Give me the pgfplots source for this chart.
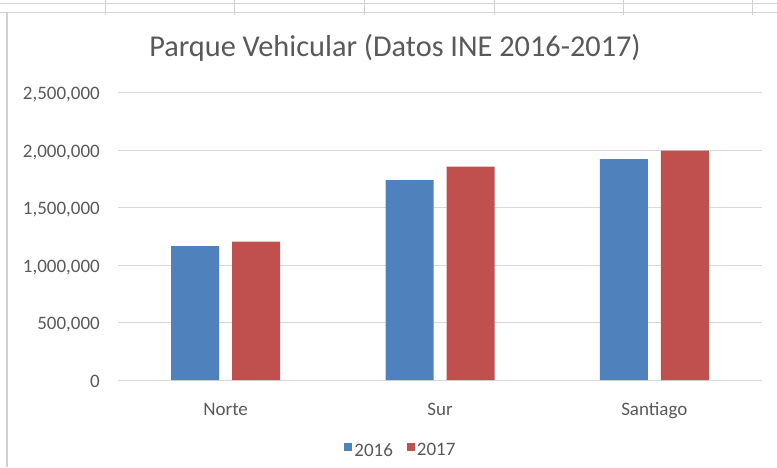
\documentclass[border=0pt]{standalone}
\usepackage{fontspec}
\setmainfont{Carlito}
\usepackage{pgfplots}
\pgfplotsset{compat=1.18}
\definecolor{blu}{HTML}{4F81BD}
\definecolor{rd}{HTML}{C0504D}
\definecolor{txt}{HTML}{595959}
\definecolor{grd}{HTML}{D9D9D9}
\definecolor{sheet}{HTML}{D0D0D0}
\begin{document}
\begin{tikzpicture}[x=1pt,y=1pt]
\useasboundingbox (0,0) rectangle (777,467);
\draw[sheet, line width=1pt] (0,463) -- (777,463);
\draw[sheet, line width=1pt] (0,454) -- (777,454);
\foreach \xx in {105,234,364,494,623,752} \draw[sheet, line width=1pt] (\xx,467) -- (\xx,452);
\draw[sheet, line width=1.2pt] (7,454) -- (7,0);
\begin{axis}[
  at={(118.5pt,87pt)}, anchor=south west,
  scale only axis, width=643pt, height=287.5pt,
  xmin=-0.5, xmax=2.5, ymin=0, ymax=2500000,
  ybar=13pt, bar width=48pt,
  xtick={0,1,2}, xticklabels={Norte,Sur,Santiago},
  ytick={0,500000,1000000,1500000,2000000,2500000},
  scaled y ticks=false,
  /pgf/number format/fixed, /pgf/number format/precision=0,
  /pgf/number format/1000 sep={,}, /pgf/number format/assume math mode=true,
  ymajorgrids, grid style={grd, line width=1pt},
  axis line style={draw=none}, major tick style={draw=none},
  tick label style={font=\fontsize{19}{23}\selectfont, text=txt},
  yticklabel style={anchor=base east, inner sep=0pt, xshift=-18.5pt, yshift=-7pt},
  xticklabel style={anchor=base, inner sep=0pt, yshift=-31.7pt},
  title={Parque Vehicular (Datos INE 2016-2017)},
  title style={at={(0.43,1.104)}, anchor=base, font=\fontsize{30.3}{36}\selectfont, text=txt, inner sep=0pt},
  legend style={at={(0.4393,-0.245)}, anchor=center, draw=none, fill=none, legend columns=2,
    font=\fontsize{19}{23}\selectfont, text=txt, nodes={inner sep=2pt},
    /tikz/every even column/.append style={column sep=12pt}},
  legend image code/.code={\fill[#1] (0pt,-1pt) rectangle (8pt,7pt);},
]
\addplot[fill=blu, draw=none] coordinates {(0,1165000) (1,1739000) (2,1920000)};
\addplot[fill=rd, draw=none] coordinates {(0,1203000) (1,1855000) (2,1994000)};
\legend{2016,2017}
\end{axis}
\end{tikzpicture}
\end{document}
